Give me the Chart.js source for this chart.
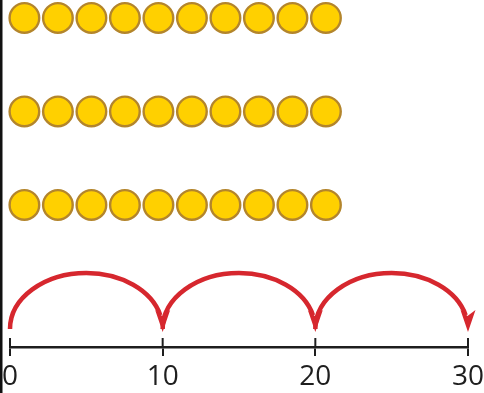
<!DOCTYPE html>
<html>
<head>
<meta charset="utf-8">
<script src="https://cdn.jsdelivr.net/npm/chart.js@4.4.1/dist/chart.umd.min.js"></script>
<style>
  html, body { margin: 0; padding: 0; background: #fff; }
  #wrap { width: 484px; height: 393px; position: relative; }
</style>
</head>
<body>
<div id="wrap"><canvas id="grafico"></canvas></div>
<script>
// Três fileiras de 10 fichas e a reta numérica com saltos de 10

const fileiras = [3, 2, 1];          // posição de cada fileira (de cima para baixo)
const fichasPorFileira = [10, 10, 10];
const marcasReta = [0, 10, 20, 30];   // rótulos da reta numérica
const saltos = [[0, 10], [10, 20], [20, 30]];

const AMARELO = '#FFD000';
const BORDA_FICHA = '#B3852C';
const VERMELHO = '#D6272E';
const PRETO = '#1e1e1e';

// monta os pontos de cada fileira a partir da quantidade de fichas
const conjuntos = fileiras.map((linha, idx) => {
    const pontos = [];
    for (let i = 1; i <= fichasPorFileira[idx]; i++) {
        pontos.push({ x: i, y: linha });
    }
    return {
        label: 'Fileira ' + (idx + 1),
        data: pontos,
        xAxisID: 'x2',
        yAxisID: 'y',
        backgroundColor: AMARELO,
        borderColor: BORDA_FICHA,
        borderWidth: 2.4,
        pointRadius: 14.8,
        pointHoverRadius: 14.8,
        clip: false
    };
});

// desenha borda esquerda, metade de cima das marcas e os saltos
const pluginReta = {
    id: 'pluginReta',
    afterDraw(chart) {
        const ctx = chart.ctx;
        const area = chart.chartArea;
        const x = chart.scales.x;
        const base = area.bottom;

        ctx.save();
        // borda esquerda
        ctx.fillStyle = '#111';
        ctx.fillRect(0, 0, 2.5, chart.height);

        // parte de cima das marcas da reta
        ctx.strokeStyle = PRETO;
        ctx.lineWidth = 2;
        marcasReta.forEach(v => {
            const px = x.getPixelForValue(v);
            ctx.beginPath();
            ctx.moveTo(px, base - 9);
            ctx.lineTo(px, base);
            ctx.stroke();
        });

        // saltos
        const y0 = base - 18;
        const ry = 56;
        saltos.forEach(([de, ate]) => {
            const a = x.getPixelForValue(de);
            const b = x.getPixelForValue(ate);
            const cx = (a + b) / 2;
            const rx = (b - a) / 2;

            ctx.strokeStyle = VERMELHO;
            ctx.lineWidth = 4.5;
            ctx.lineCap = 'butt';
            ctx.beginPath();
            ctx.ellipse(cx, y0, rx, ry, 0, Math.PI, 2 * Math.PI - 0.25);
            ctx.stroke();

            // ponta da seta
            ctx.fillStyle = VERMELHO;
            ctx.beginPath();
            ctx.moveTo(b, y0 + 3);
            ctx.lineTo(b - 7.5, y0 - 19);
            ctx.lineTo(b - 0.5, y0 - 13);
            ctx.lineTo(b + 7.5, y0 - 19);
            ctx.closePath();
            ctx.fill();
        });
        ctx.restore();
    }
};

Chart.defaults.font.family = "'Open Sans', sans-serif";

new Chart(document.getElementById('grafico'), {
    type: 'scatter',
    data: { datasets: conjuntos },
    options: {
        responsive: true,
        maintainAspectRatio: false,
        animation: false,
        events: [],
        layout: { autoPadding: false, padding: { left: 10, right: 16, top: 0, bottom: 0 } },
        plugins: {
            legend: { display: false },
            tooltip: { enabled: false }
        },
        scales: {
            x: {
                type: 'linear',
                position: 'bottom',
                min: 0,
                max: 30,
                afterBuildTicks: s => { s.ticks = marcasReta.map(v => ({ value: v })); },
                afterFit: s => { s.height = 46; },
                grid: {
                    display: true,
                    drawOnChartArea: false,
                    drawTicks: true,
                    tickLength: 9,
                    color: PRETO,
                    lineWidth: 2
                },
                border: { display: true, color: PRETO, width: 2.5 },
                ticks: {
                    color: PRETO,
                    padding: 0,
                    maxRotation: 0,
                    font: { size: 28, lineHeight: 1.5 }
                }
            },
            x2: {
                type: 'linear',
                display: false,
                min: 0.57,
                max: 14.24
            },
            y: {
                type: 'linear',
                display: false,
                min: -0.519,
                max: 3.192
            }
        }
    },
    plugins: [pluginReta]
});
</script>
</body>
</html>
